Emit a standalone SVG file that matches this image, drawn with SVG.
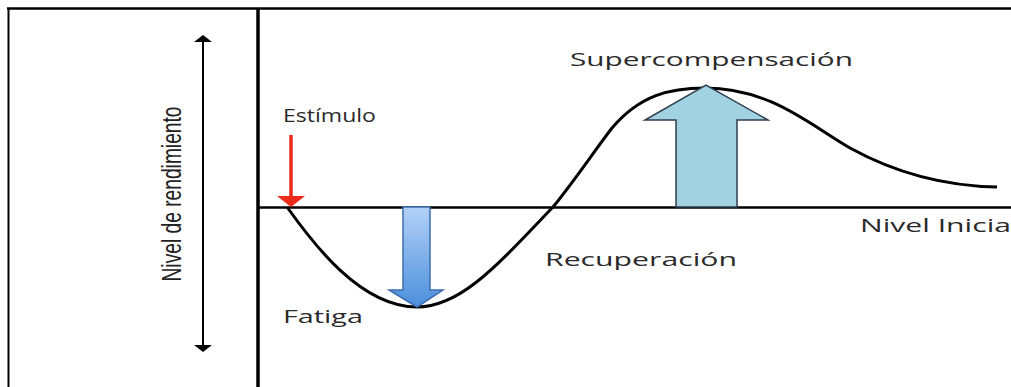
<svg xmlns="http://www.w3.org/2000/svg" width="1011" height="387" viewBox="0 0 1011 387">
  <style>
    .lbl { font-family: "Open Sans", "Liberation Sans", sans-serif; fill: #2a2a2a; }
    .axis { stroke: #000; fill: none; }
  </style>
  <defs>
    <linearGradient id="blueGrad" x1="0" y1="0" x2="0" y2="1">
      <stop offset="0" stop-color="#b3d1f7"/>
      <stop offset="1" stop-color="#4b8fdc"/>
    </linearGradient>
  </defs>
  <rect x="0" y="0" width="1011" height="387" fill="#fff"/>
  <g id="frame">
    <line class="axis" x1="7" y1="8.5" x2="1011" y2="8.5" stroke-width="2.5"/>
    <line class="axis" x1="8.5" y1="8" x2="8.5" y2="387" stroke-width="2"/>
  </g>
  <g id="axes">
    <line class="axis" x1="258" y1="9" x2="258" y2="387" stroke-width="3.5"/>
    <line class="axis" x1="258" y1="207.5" x2="1011" y2="207.5" stroke-width="2.5"/>
  </g>
  <g id="performance-axis">
    <line class="axis" x1="203" y1="40" x2="203" y2="348" stroke-width="2"/>
    <polygon points="203,35 194,42 212,42" fill="#000"/>
    <polygon points="203,352 194,345 212,345" fill="#000"/>
    <text transform="translate(181,194) rotate(-90)" text-anchor="middle" font-family="Liberation Sans, Arial, sans-serif" font-size="27" fill="#222" textLength="175" lengthAdjust="spacingAndGlyphs">Nivel de rendimiento</text>
  </g>
  <g id="connectors">
    <path class="axis" stroke-width="3" d="M287,207 C312,242 360,307 417,307 C462,307 500,262 553,207 C575,180 595,150 612,128 C640,95 670,88 705,88 C770,88 810,125 850,148 C890,170 940,186 997,187"/>
  </g>
  <g id="estimulo">
    <line x1="291" y1="135" x2="291" y2="198" stroke="#ee2a1a" stroke-width="3.5"/>
    <polygon points="277,196 305,196 291,207" fill="#ee2a1a"/>
    <text class="lbl" x="283" y="122" font-size="18.5" textLength="93" lengthAdjust="spacingAndGlyphs">Estímulo</text>
  </g>
  <g id="fatiga">
    <polygon points="403,207 430,207 430,290 443,290 417,307 389,290 403,290" fill="url(#blueGrad)" stroke="#3d6fae" stroke-width="1.5"/>
    <text class="lbl" x="283" y="323" font-size="18.5" textLength="80" lengthAdjust="spacingAndGlyphs">Fatiga</text>
  </g>
  <g id="recuperacion">
    <text class="lbl" x="545" y="266" font-size="19" textLength="192" lengthAdjust="spacingAndGlyphs">Recuperación</text>
  </g>
  <g id="supercompensacion">
    <polygon points="676,207 737,207 737,120 768,120 706,85 645,120 676,120" fill="#a1d2e2" stroke="#2e3d4d" stroke-width="1.5"/>
    <text class="lbl" x="570" y="66" font-size="19" textLength="283" lengthAdjust="spacingAndGlyphs">Supercompensación</text>
  </g>
  <g id="nivel-inicial">
    <text class="lbl" x="860" y="232" font-size="19" textLength="151" lengthAdjust="spacingAndGlyphs">Nivel Inicia</text>
  </g>
</svg>
